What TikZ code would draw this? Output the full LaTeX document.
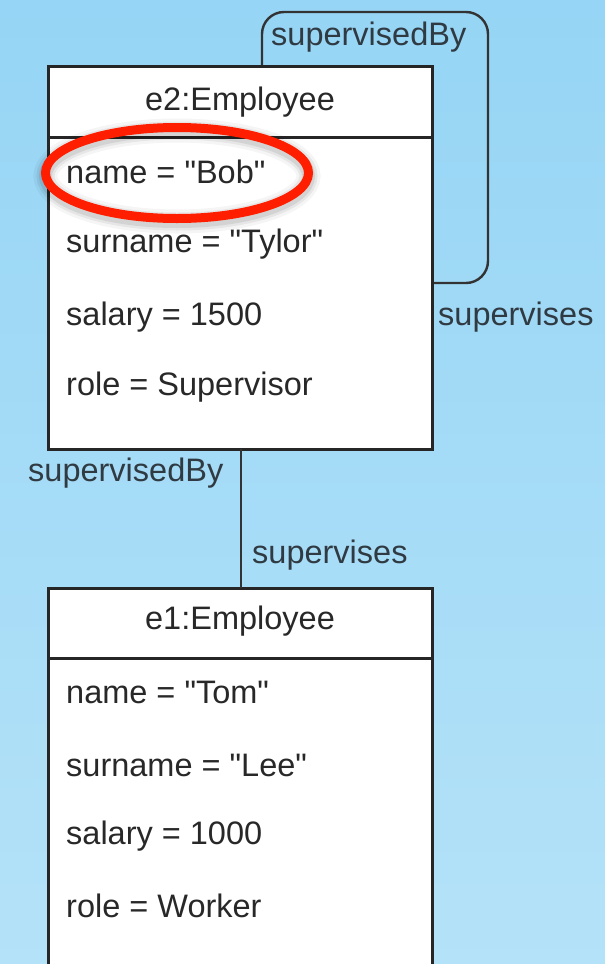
\documentclass[tikz,border=0pt]{standalone}
\usepackage{fontspec}
% TeXOff keeps the ASCII double quote straight
\setmainfont{Liberation Sans}[Ligatures=TeXOff]
\usetikzlibrary{calc}
\definecolor{bgtop}{RGB}{150,213,245}
\definecolor{bgbot}{RGB}{180,226,248}
\definecolor{txt}{RGB}{40,40,40}
\definecolor{lbl}{RGB}{48,58,66}
\definecolor{hlred}{RGB}{255,30,0}
\tikzset{
  objbox/.style={draw=black!85, line width=3pt, fill=white},
  divider/.style={draw=black!85, line width=3pt},
  link/.style={draw=black!80, line width=2.4pt, rounded corners=22pt},
  title/.style={font=\fontsize{32.5}{38}\selectfont, text=txt, anchor=center, inner sep=0pt},
  attr/.style={font=\fontsize{32.5}{38}\selectfont, text=txt, anchor=west, inner sep=0pt},
  rolename/.style={font=\fontsize{32.5}{38}\selectfont, text=lbl, inner sep=0pt},
}
\begin{document}
\begin{tikzpicture}[x=1pt,y=-1pt]
  % background
  \shade[top color=bgtop, bottom color=bgbot] (0,0) rectangle (605,964);
  \useasboundingbox (0,0) rectangle (605,964);

  % self association on e2
  \coordinate (loopA) at (262,66);
  \coordinate (loopB) at (432,283);
  \draw[link] (loopA) -- (262,12) -- (488,12) -- (488,283) -- (loopB);
  \node[rolename, anchor=west] (selfby) at (271,37) {supervisedBy};
  \node[rolename, anchor=west] (selfsup) at (438,317) {supervises};

  % object e2
  \path[objbox] (48,66) rectangle (432,449);
  \coordinate (e2top) at (241,66);
  \coordinate (e2bot) at (241,449);
  \draw[divider] (48,137) -- (432,137);
  \node[title] (e2title) at (240,102) {e2:Employee};
  \node[attr] (e2name) at (66,172) {name = "Bob"};
  \node[attr] (e2sur) at (66,244) {surname = "Tylor"};
  \node[attr] (e2sal) at (66,317) {salary = 1500};
  \node[attr] (e2role) at (66,387) {role = Supervisor};

  % object e1 (runs past the lower edge)
  \path[objbox] (48,1000) -- (48,588) -- (432,588) -- (432,1000);
  \coordinate (e1top) at (241,588);
  \draw[divider] (48,658) -- (432,658);
  \node[title] (e1title) at (240,621) {e1:Employee};
  \node[attr] (e1name) at (66,692) {name = "Tom"};
  \node[attr] (e1sur) at (66,765) {surname = "Lee"};
  \node[attr] (e1sal) at (66,836) {salary = 1000};
  \node[attr] (e1role) at (66,906) {role = Worker};

  % association between e2 and e1
  \draw[draw=black!80, line width=2.4pt] (e2bot) -- (e1top);
  \node[rolename, anchor=west] (by) at (28,473) {supervisedBy};
  \node[rolename, anchor=west] (sup) at (252,555) {supervises};

  % highlight around the name attribute, with a soft shadow
  \coordinate (hl) at ($(e2name.west)+(111,1)$);
  \foreach \w/\o in {24/0.04,18/0.06,13/0.08}
    \draw[black, line width=\w pt, opacity=\o] ($(hl)+(0,3)$) ellipse [x radius=131.5pt, y radius=45.5pt];
  \draw[hlred, line width=9pt] (hl) ellipse [x radius=131.5pt, y radius=45.5pt];
\end{tikzpicture}
\end{document}
